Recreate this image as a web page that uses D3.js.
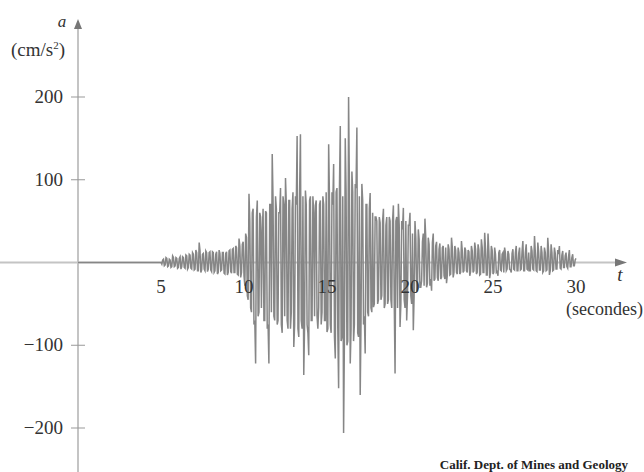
<!DOCTYPE html>
<html>
<head>
<meta charset="utf-8">
<script src="https://cdn.jsdelivr.net/npm/d3@7"></script>
<style>
  body { margin: 0; background: #fff; }
  svg { display: block; font-family: "Liberation Serif", "DejaVu Serif", serif; }
</style>
</head>
<body>
<svg width="644" height="472"></svg>
<script>
// acceleration samples (cm/s2), one every 0.1 s starting at t = 5 s
const startT = 5
const stepT = 0.1
const accel = [
  0, 3, -4, 6, -5, 4, -6, 8, -5, 6, -7,
  5, -8, 7, -6, 9, -8, 10, -7, 12, -9,
  15, -10, 24, -12, 10, -8, 14, -11, 12, -9,
  13, -12, 10, -14, 15, -10, 12, -13, 11, -15,
  14, -11, 16, -12, 20, -14, 29, -18, 22, -16,
  35, -40, 83, -55, 60, -75, -122, 75, -60, 55,
  38, -70, 62, -80, -122, 70, 131, -65, 80, -75,
  60, 90, -85, 70, 102, -70, 75, -80, 65, -102,
  80, 153, -90, 155, -80, -136, 87, -75, -112, 80,
  -70, 60, 69, -65, -54, 75, -60, 70, -70, -84,
  143, -75, 85, 119, -116, 90, -152, 165, -90, -206,
  150, -100, 200, -122, 110, -95, 95, 163, -90, -160,
  95, -75, -110, 70, -65, 84, -60, -54, 55, 50,
  -45, 48, -40, 65, -50, 55, -45, 50, -55, 69,
  -134, 55, 71, -78, 50, 66, -55, -70, 45, 60,
  -50, -82, 50, -35, 40, -30, -22, 35, 53, -30,
  30, -28, -34, 35, -20, 25, -22, 23, -18, 20,
  -20, -25, 22, -15, 30, -18, 20, -12, 18, -14,
  26, -12, 18, -10, 15, -16, 20, -12, 24, -14,
  22, -15, 28, -12, 36, -15, 35, -19, 20, -14,
  18, -12, -16, 15, -10, 12, 18, -10, 14, -8,
  -12, 16, -9, 20, -10, 18, -8, 26, -10, 22,
  -9, -10, 20, -8, 32, -10, 24, -9, 20, -12,
  18, -10, 30, -15, 22, -10, 18, -8, 15, 20,
  -8, 14, -6, 12, -7, 15, -5, 10, -4, 5
]
// in-between samples, at t = 5.05 s, 5.15 s, ...
const accelMid = [
  -2, 4, -3, 5, -4, 3, -5, 6, -4, 5,
  -6, 7, -5, 6, -7, 8, -6, 9, -8, 10,
  -8, 12, -10, 14, -9, 11, -10, 12, -8, 13,
  -11, 12, -10, 13, -12, 11, -9, 12, -14, 13,
  -12, 15, -13, 17, -12, 18, -15, 20, -12, 25,
  -28, 30, -45, 50, -60, 65, -70, 55, -65, 60,
  -55, 65, -70, 60, -75, 70, -60, 75, -70, 65,
  -70, 60, -75, 80, -65, 70, -80, 75, -60, 85,
  -75, 70, -80, 85, -70, 80, -75, 70, -85, 75,
  -70, 80, -65, 75, -80, 70, -75, 80, -70, 85,
  -80, 75, -85, 70, -90, 85, -80, 90, -95, 80,
  -90, 85, -95, 90, -80, 85, -75, 90, -85, 80,
  -70, 75, -65, 70, -60, 65, -55, 60, -50, 55,
  -50, 55, -45, 50, -55, 45, -50, 55, -45, 50,
  -45, 50, -55, 45, -50, 40, -45, 50, -40, 45,
  -40, 35, -38, 30, -32, 28, -30, 25, -28, 30,
  -25, 22, -20, 24, -22, 20, -18, 16, -20, 18,
  -16, 18, -15, 16, -14, 18, -12, 15, -14, 12,
  -12, 14, -10, 15, -12, 13, -11, 14, -10, 16,
  -12, 15, -14, 18, -12, 16, -15, 14, -12, 15,
  -12, 10, -11, 12, -9, 10, -12, 11, -8, 10,
  -9, 11, -8, 12, -10, 11, -9, 13, -10, 12,
  -8, 12, -10, 14, -9, 12, -11, 13, -9, 12,
  -10, 12, -9, 14, -10, 12, -9, 11, -8, 10,
  -7, 9, -6, 8, -5, 7, -5, 6, -4, 3
]

const xTicks = [5, 10, 15, 20, 25, 30]
const yTicks = [200, 100, -100, -200]

const svg = d3.select("svg")

const x = d3.scaleLinear().domain([0, 30]).range([78, 576])
const y = d3.scaleLinear().domain([-200, 200]).range([428, 97])

// quiet record before the first shaking, then samples interleaved
const trace = [{t: 0, a: 0}]
accel.forEach(function(a, i) {
  trace.push({t: startT + i * stepT, a: a})
  if (i < accelMid.length) {
    trace.push({t: startT + (i + 0.5) * stepT, a: accelMid[i]})
  }
})

// y axis
svg.append("line")
  .attr("x1", x(0)).attr("x2", x(0))
  .attr("y1", 472).attr("y2", 26)
  .attr("stroke", "#c4c4c4")
  .attr("stroke-width", 2)
svg.append("path")
  .attr("d", "M" + x(0) + ",19 L" + (x(0) - 4) + ",29 L" + (x(0) + 4) + ",29 Z")
  .attr("fill", "#777")

// x axis
svg.append("line")
  .attr("x1", 0).attr("x2", 618)
  .attr("y1", y(0)).attr("y2", y(0))
  .attr("stroke", "#c4c4c4")
  .attr("stroke-width", 2)
svg.append("path")
  .attr("d", "M627," + y(0) + " L615," + (y(0) - 4) + " L615," + (y(0) + 4) + " Z")
  .attr("fill", "#777")

// seismogram trace
const line = d3.line()
  .x(function(d) { return x(d.t) })
  .y(function(d) { return y(d.a) })

svg.append("path")
  .datum(trace)
  .attr("d", line)
  .attr("fill", "none")
  .attr("stroke", "#868686")
  .attr("stroke-width", 1.5)

// y ticks
svg.selectAll(".ytick")
  .data(yTicks).enter()
  .append("line")
  .attr("x1", x(0) - 7).attr("x2", x(0) + 7)
  .attr("y1", function(d) { return y(d) })
  .attr("y2", function(d) { return y(d) })
  .attr("stroke", "#999")
  .attr("stroke-width", 1)

svg.selectAll(".ylab")
  .data(yTicks).enter()
  .append("text")
  .attr("x", 63)
  .attr("y", function(d) { return y(d) + 6 })
  .attr("text-anchor", "end")
  .attr("font-size", "19px")
  .attr("fill", "#333")
  .text(function(d) { return d < 0 ? "\u2212" + Math.abs(d) : d })

// x ticks
svg.selectAll(".xlab")
  .data(xTicks).enter()
  .append("text")
  .attr("x", function(d) { return x(d) })
  .attr("y", 293)
  .attr("text-anchor", "middle")
  .attr("font-size", "19px")
  .attr("fill", "#333")
  .text(function(d) { return d })

// axis titles
svg.append("text")
  .attr("x", 62).attr("y", 27)
  .attr("text-anchor", "middle")
  .attr("font-size", "17px")
  .attr("font-style", "italic")
  .attr("fill", "#333")
  .text("a")

const unit = svg.append("text")
  .attr("x", 11).attr("y", 56)
  .attr("font-size", "19px")
  .attr("fill", "#333")
unit.append("tspan").text("(cm/s")
unit.append("tspan").attr("font-size", "11px").attr("dy", -7).text("2")
unit.append("tspan").attr("dy", 7).text(")")

svg.append("text")
  .attr("x", 620).attr("y", 281)
  .attr("text-anchor", "middle")
  .attr("font-size", "19px")
  .attr("font-style", "italic")
  .attr("fill", "#333")
  .text("t")

svg.append("text")
  .attr("x", 643).attr("y", 315)
  .attr("text-anchor", "end")
  .attr("font-size", "18px")
  .attr("fill", "#333")
  .text("(secondes)")

svg.append("text")
  .attr("x", 628).attr("y", 469)
  .attr("text-anchor", "end")
  .attr("font-size", "13px")
  .attr("font-weight", "bold")
  .attr("fill", "#222")
  .text("Calif. Dept. of Mines and Geology")
</script>
</body>
</html>
